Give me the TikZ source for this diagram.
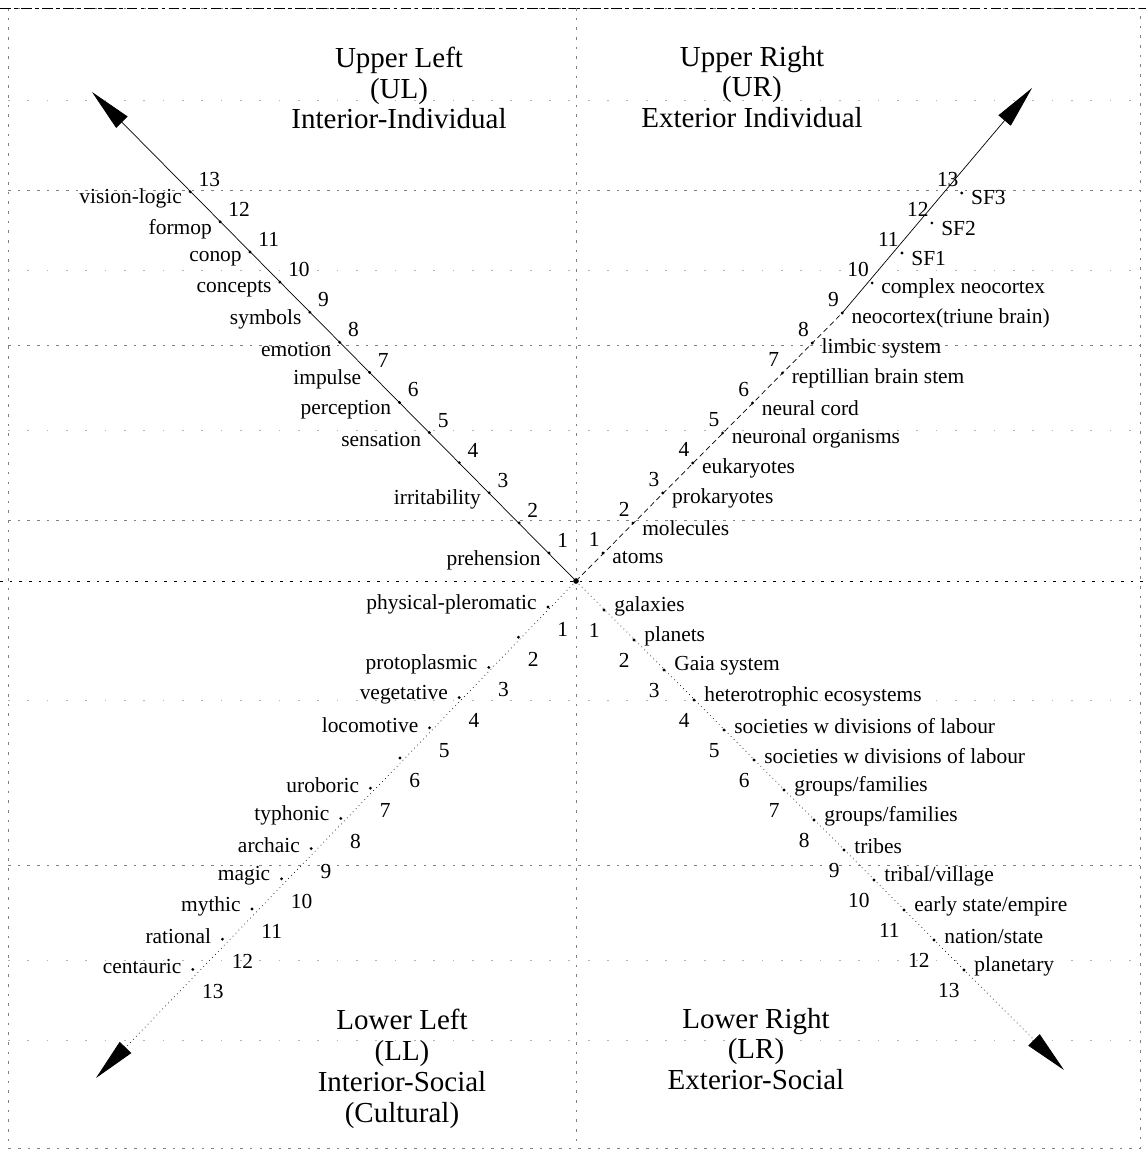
\documentclass[tikz,border=0pt]{standalone}
\usepackage{fontspec}
\setmainfont{Liberation Serif}
\usetikzlibrary{arrows.meta}

\tikzset{
  lab/.style={font=\fontsize{12.2}{14}\selectfont, inner sep=0pt},
  quad/.style={font=\fontsize{16.5}{17.6}\selectfont, align=center, inner sep=0pt},
  guide/.style={gray, dash pattern=on 1.5pt off 4pt, line width=0.4pt},
  faint/.style={gray!60, dash pattern=on 1pt off 10pt, line width=0.4pt},
  axis/.style={line width=0.4pt, -{Triangle[length=0.85cm, width=0.32cm]}},
}

\begin{document}
\begin{tikzpicture}[x=0.02cm, y=-0.02cm]
\useasboundingbox (0,0) rectangle (1146,1154);
% frame and quadrant lines
\draw[guide] (8,8) rectangle (1140,1148);
\draw[black, dash pattern=on 6pt off 2pt on 2pt off 2pt] (0,8) -- (1146,8);
\draw[guide, black] (0,581) -- (1146,581);
\draw[guide] (576,8) -- (576,1148);
\foreach \y in {190,345,520,865}
  \draw[guide] (8,\y) -- (1140,\y);
\foreach \y in {100,270,430,700,960,1040}
  \draw[faint] (8,\y) -- (1140,\y);

% quadrant titles
\node[quad] (ul-title) at (399,88) {Upper Left\\(UL)\\Interior-Individual};
\node[quad] (ur-title) at (752,87) {Upper Right\\(UR)\\Exterior Individual};
\node[quad] (ll-title) at (402,1069) {Lower Left\\(LL)\\Interior-Social\\(Cultural)};
\node[quad] (lr-title) at (756,1049) {Lower Right\\(LR)\\Exterior-Social};

% the four axes
\coordinate (O) at (576,581);
\coordinate (ul-tip) at (92,92);
\coordinate (ur-tip) at (1032,88);
\coordinate (ll-tip) at (96,1078);
\coordinate (lr-tip) at (1064,1070);
\foreach \k in {1,...,13} {
  \coordinate (ul\k) at ({549-29.9*(\k-1)},{553-30.1*(\k-1)});
  \coordinate (ur\k) at ({603+29.9*(\k-1)},{553-30*(\k-1)});
  \coordinate (ll\k) at ({548-29.6*(\k-1)},{607+30.2*(\k-1)});
  \coordinate (lr\k) at ({604+30*(\k-1)},{610+30*(\k-1)});
}
\draw[axis] (O) -- (ul-tip);
\draw[line width=0.4pt, densely dashed] (O) -- (ur9);
\draw[axis] (ur9) -- (ur-tip);
\draw[axis, dotted] (O) -- (ll-tip);
\draw[axis, dotted] (O) -- (lr-tip);
\fill (O) circle (1.6pt);

% ticks and their numbers
\foreach \k in {1,...,13} {
  \fill (ul\k) circle (0.9pt) (ur\k) circle (0.9pt) (ll\k) circle (0.9pt) (lr\k) circle (0.9pt);
  \node[lab, anchor=south west] (ul-n\k) at ([shift={(8,-5)}]ul\k) {\k};
  \node[lab, anchor=south east] (ur-n\k) at ([shift={(-3,-6)}]ur\k) {\k};
  \node[lab, anchor=north west] (ll-n\k) at ([shift={(9,15)}]ll\k) {\k};
  \node[lab, anchor=north east] (lr-n\k) at ([shift={(-4,13)}]lr\k) {\k};
}

% stage labels
\foreach \k/\txt in {1/prehension, 3/irritability, 5/sensation, 6/perception,
    7/impulse, 8/emotion, 9/symbols, 10/concepts, 11/conop, 12/formop, 13/vision-logic}
  \node[lab, anchor=east] (ul-t\k) at ([shift={(-8,7)}]ul\k) {\txt};
\foreach \k/\txt in {1/atoms, 2/molecules, 3/prokaryotes, 4/eukaryotes,
    5/neuronal organisms, 6/neural cord, 7/reptillian brain stem, 8/limbic system,
    9/neocortex(triune brain), 10/complex neocortex, 11/SF1, 12/SF2, 13/SF3}
  \node[lab, anchor=west] (ur-t\k) at ([shift={(9,5)}]ur\k) {\txt};
\foreach \k/\txt in {1/physical-pleromatic, 3/protoplasmic, 4/vegetative, 5/locomotive,
    7/uroboric, 8/typhonic, 9/archaic, 10/magic, 11/mythic, 12/rational, 13/centauric}
  \node[lab, anchor=east] (ll-t\k) at ([shift={(-11,-3)}]ll\k) {\txt};
\foreach \k/\txt in {1/galaxies, 2/planets, 3/Gaia system, 4/heterotrophic ecosystems,
    5/societies w divisions of labour, 6/societies w divisions of labour,
    7/{groups/families}, 8/{groups/families}, 9/tribes, 10/{tribal/village},
    11/{early state/empire}, 12/{nation/state}, 13/planetary}
  \node[lab, anchor=west] (lr-t\k) at ([shift={(10,-4)}]lr\k) {\txt};
\end{tikzpicture}
\end{document}
